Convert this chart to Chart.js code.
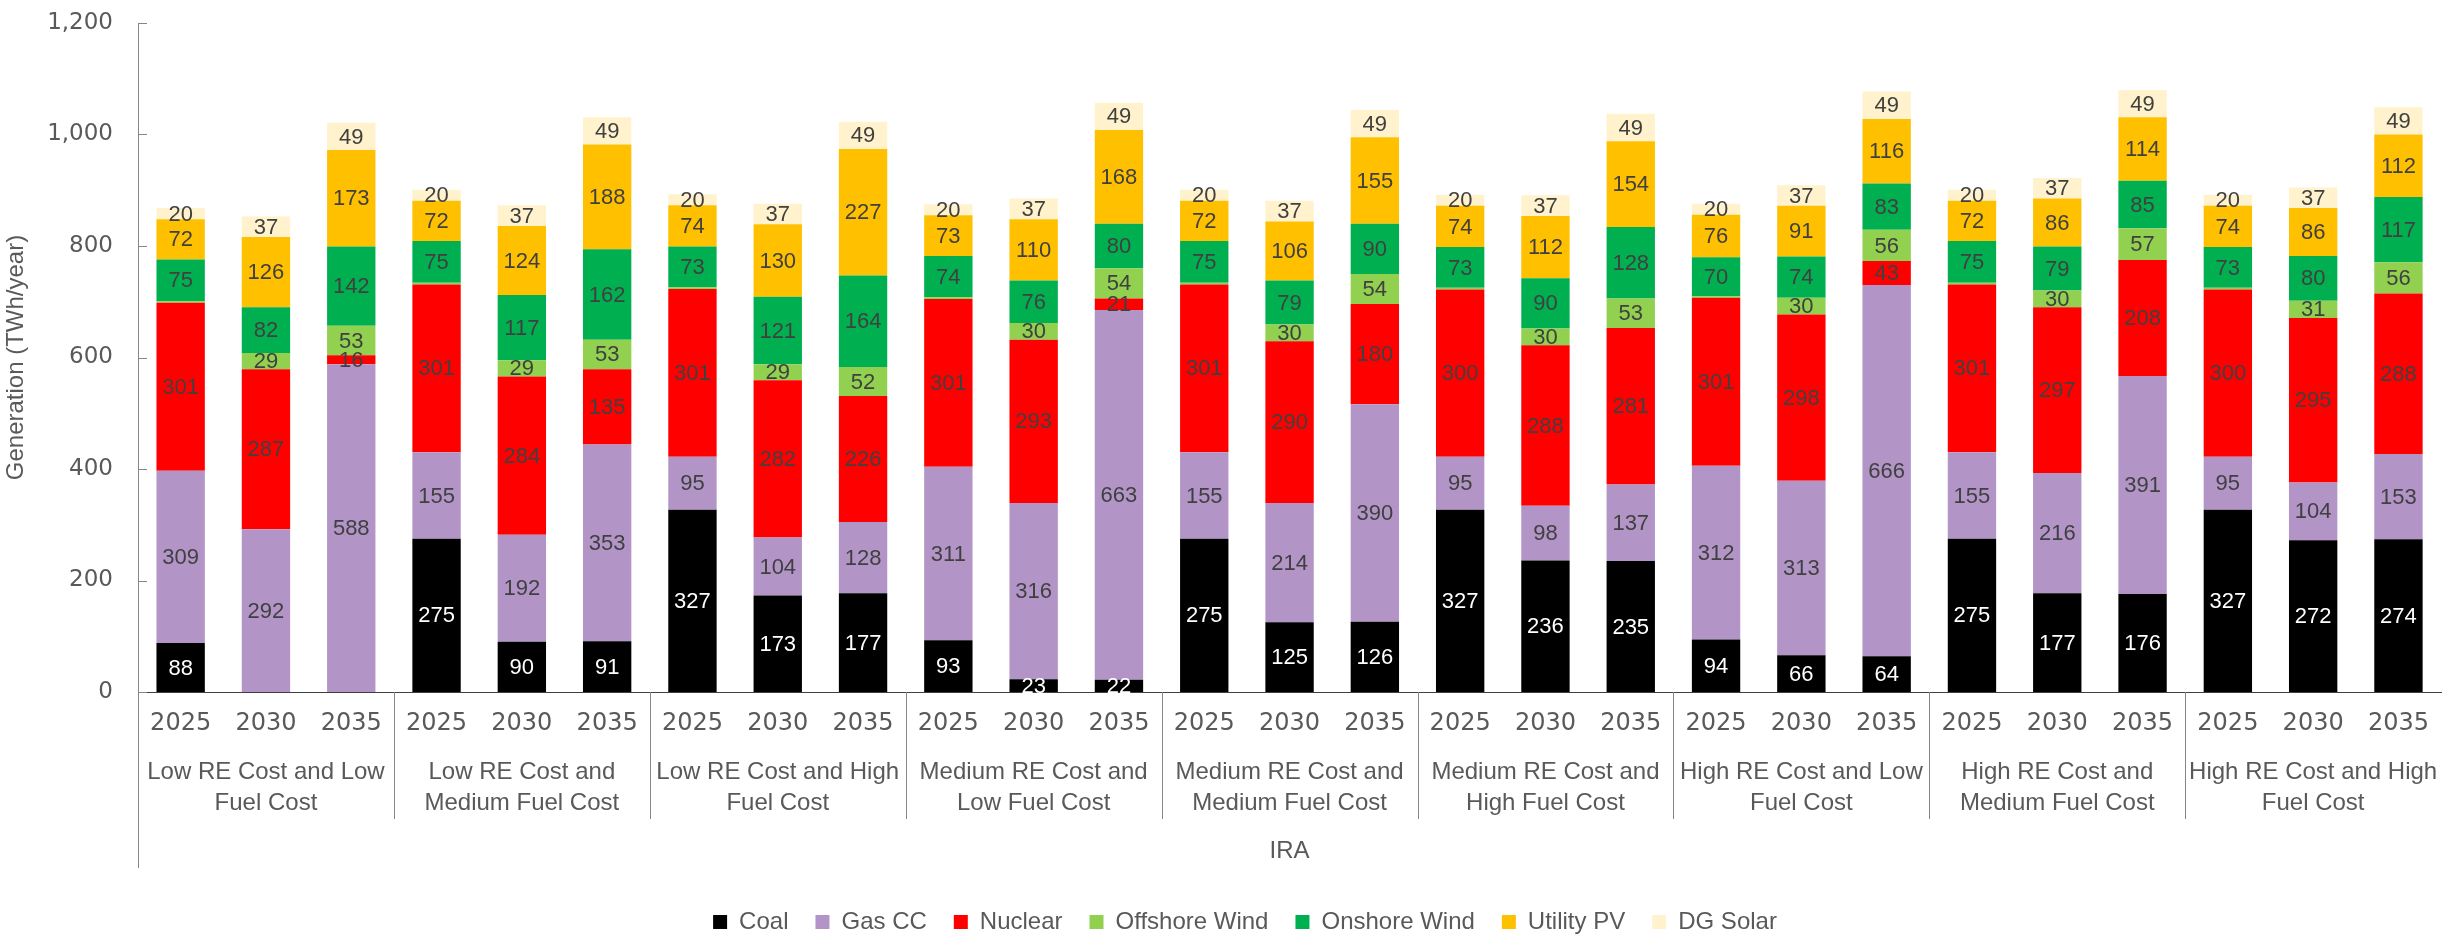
<!DOCTYPE html>
<html>
<head>
<meta charset="utf-8">
<script src="https://cdn.jsdelivr.net/npm/chart.js@4.4.1/dist/chart.umd.min.js"></script>
<style>
  html, body { margin: 0; padding: 0; background: #fff; }
  .chart-box { width: 2446px; height: 934px; position: relative; }
</style>
</head>
<body>
<div class="chart-box"><canvas class="js-chart"></canvas></div>
<script>
const years = ['2025', '2030', '2035'];
const groups = [
  ['Low RE Cost and Low', 'Fuel Cost'],
  ['Low RE Cost and', 'Medium Fuel Cost'],
  ['Low RE Cost and High', 'Fuel Cost'],
  ['Medium RE Cost and', 'Low Fuel Cost'],
  ['Medium RE Cost and', 'Medium Fuel Cost'],
  ['Medium RE Cost and', 'High Fuel Cost'],
  ['High RE Cost and Low', 'Fuel Cost'],
  ['High RE Cost and', 'Medium Fuel Cost'],
  ['High RE Cost and High', 'Fuel Cost'],
];
const yTicks = [0, 200, 400, 600, 800, 1000, 1200];

// TWh/year, 27 bars = 9 scenarios x 3 years
const coal = [88, 0, 0, 275, 90, 91, 327, 173, 177, 93, 23, 22, 275, 125, 126, 327, 236, 235, 94, 66, 64, 275, 177, 176, 327, 272, 274];
const gasCC = [309, 292, 588, 155, 192, 353, 95, 104, 128, 311, 316, 663, 155, 214, 390, 95, 98, 137, 312, 313, 666, 155, 216, 391, 95, 104, 153];
const nuclear = [301, 287, 16, 301, 284, 135, 301, 282, 226, 301, 293, 21, 301, 290, 180, 300, 288, 281, 301, 298, 43, 301, 297, 208, 300, 295, 288];
const offshoreWind = [3, 29, 53, 3, 29, 53, 3, 29, 52, 3, 30, 54, 3, 30, 54, 3, 30, 53, 3, 30, 56, 3, 30, 57, 3, 31, 56];
const onshoreWind = [75, 82, 142, 75, 117, 162, 73, 121, 164, 74, 76, 80, 75, 79, 90, 73, 90, 128, 70, 74, 83, 75, 79, 85, 73, 80, 117];
const utilityPV = [72, 126, 173, 72, 124, 188, 74, 130, 227, 73, 110, 168, 72, 106, 155, 74, 112, 154, 76, 91, 116, 72, 86, 114, 74, 86, 112];
const dgSolar = [20, 37, 49, 20, 37, 49, 20, 37, 49, 20, 37, 49, 20, 37, 49, 20, 37, 49, 20, 37, 49, 20, 37, 49, 20, 37, 49];

const textColor = '#595959';
const labelFont = '"Liberation Sans", Arial, sans-serif';
const numFont = '"DejaVu Sans", sans-serif';

const barLabels = {
  id: 'barLabels',
  afterDatasetsDraw(chart) {
    const c = chart.ctx;
    c.save();
    c.font = '22px ' + labelFont;
    c.textAlign = 'center';
    c.textBaseline = 'middle';
    chart.data.datasets.forEach((ds, i) => {
      const meta = chart.getDatasetMeta(i);
      meta.data.forEach((bar, j) => {
        const v = ds.data[j];
        if (v < 10) return;
        const p = bar.getProps(['x', 'y', 'base'], true);
        c.fillStyle = i === 0 ? '#ffffff' : '#404040';
        c.fillText(v, p.x, (p.y + p.base) / 2 + 1);
      });
    });
    c.restore();
  },
};

const groupAxis = {
  id: 'groupAxis',
  afterDraw(chart) {
    const c = chart.ctx;
    const x = chart.scales.x;
    const y = chart.scales.y;
    const area = chart.chartArea;
    c.save();
    // inside tick marks on the value axis
    c.strokeStyle = '#868686';
    c.lineWidth = 1;
    yTicks.forEach(t => {
      const py = Math.round(y.getPixelForValue(t)) + 0.5;
      c.beginPath();
      c.moveTo(area.left, py);
      c.lineTo(area.left + 9, py);
      c.stroke();
    });
    // value axis runs down past the category labels
    c.beginPath();
    c.moveTo(Math.round(area.left) + 0.5, area.bottom);
    c.lineTo(Math.round(area.left) + 0.5, 868);
    c.stroke();
    // group separators and group names
    c.font = '24px ' + labelFont;
    c.fillStyle = textColor;
    c.textAlign = 'center';
    c.textBaseline = 'middle';
    groups.forEach((g, gi) => {
      const first = x.getPixelForValue(gi * 3);
      const last = x.getPixelForValue(gi * 3 + 2);
      const half = (x.getPixelForValue(1) - x.getPixelForValue(0)) / 2;
      const mid = (first + last) / 2;
      c.fillText(g[0], mid, 772);
      c.fillText(g[1], mid, 803);
      if (gi > 0) {
        const sx = Math.round(first - half) + 0.5;
        c.beginPath();
        c.moveTo(sx, area.bottom);
        c.lineTo(sx, 819);
        c.stroke();
      }
    });
    c.restore();
  },
};

const ctx = document.querySelector('.js-chart').getContext('2d');

const chart = new Chart(ctx, {
  type: 'bar',
  data: {
    labels: groups.flatMap(() => years),
    datasets: [
      { label: 'Coal', data: coal, backgroundColor: '#000000' },
      { label: 'Gas CC', data: gasCC, backgroundColor: '#B294C7' },
      { label: 'Nuclear', data: nuclear, backgroundColor: '#FF0000' },
      { label: 'Offshore Wind', data: offshoreWind, backgroundColor: '#92D050' },
      { label: 'Onshore Wind', data: onshoreWind, backgroundColor: '#00B050' },
      { label: 'Utility PV', data: utilityPV, backgroundColor: '#FFC000' },
      { label: 'DG Solar', data: dgSolar, backgroundColor: '#FFF2CC' },
    ],
  },
  options: {
    responsive: true,
    maintainAspectRatio: false,
    animation: false,
    layout: { padding: { top: 23, left: 44, right: 0, bottom: 0 } },
    datasets: {
      bar: { barPercentage: 0.567, categoryPercentage: 1, borderWidth: 0 },
    },
    plugins: {
      tooltip: { enabled: false },
      legend: {
        display: true,
        position: 'bottom',
        maxHeight: 51,
        labels: {
          boxWidth: 14,
          boxHeight: 14,
          padding: 27,
          color: textColor,
          font: { family: labelFont, size: 24 },
        },
      },
    },
    scales: {
      x: {
        stacked: true,
        grid: { display: false, drawTicks: false },
        border: { display: true, color: '#404040', width: 1 },
        ticks: {
          color: textColor,
          padding: 17,
          maxRotation: 0,
          autoSkip: false,
          font: { family: numFont, size: 24 },
        },
        title: {
          display: true,
          text: 'IRA',
          color: textColor,
          font: { family: labelFont, size: 24 },
          padding: { top: 0, bottom: 17 },
        },
        afterFit: scale => { scale.height = 191; },
      },
      y: {
        stacked: true,
        min: 0,
        max: 1200,
        grid: { display: false, drawTicks: false },
        border: { display: true, color: '#868686', width: 1 },
        ticks: {
          stepSize: 200,
          color: textColor,
          padding: 25,
          font: { family: numFont, size: 23 },
          callback: v => v.toLocaleString('en-US'),
        },
        title: {
          display: true,
          text: 'Generation (TWh/year)',
          color: textColor,
          font: { family: labelFont, size: 24 },
          padding: { top: -42, bottom: 0 },
        },
        afterFit: scale => {
          scale.width = 94;
          scale.paddingTop = 0;
          scale.paddingBottom = 0;
        },
      },
    },
  },
  plugins: [barLabels, groupAxis],
});
</script>
</body>
</html>
